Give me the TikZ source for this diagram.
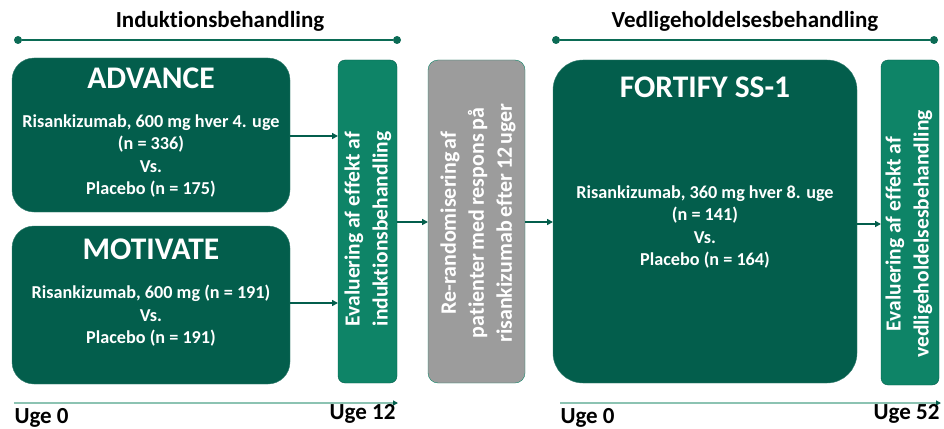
\documentclass[tikz,border=0pt]{standalone}
\usepackage{fontspec}
\setmainfont{Carlito}[Ligatures=NoCommon]
\usetikzlibrary{arrows.meta}
\definecolor{dkgreen}{HTML}{035E4C}
\definecolor{mdgreen}{HTML}{0E8467}
\definecolor{gbox}{HTML}{9C9C9C}
\definecolor{lnGreen}{HTML}{0B6B55}
\definecolor{tlgreen}{HTML}{8CC3B2}
\newcommand{\myGrayFont}{\bfseries\fontsize{22}{28}\selectfont\spaceskip=0.16em\relax}
\tikzset{
  study/.style={fill=dkgreen, draw=dkgreen!80!white, rounded corners=22pt, text=white, font=\bfseries},
  evalbox/.style={fill=mdgreen, draw=dkgreen, rounded corners=7pt},
  graybox/.style={fill=gbox, draw=mdgreen, rounded corners=10pt},
  conn/.style={draw=dkgreen, line width=1.6pt, -{Triangle[length=6pt,width=6pt]}},
  hdr/.style={draw=lnGreen, line width=2pt},
  hdot/.style={circle, fill=lnGreen, inner sep=0pt, minimum size=8pt},
  tl/.style={draw=tlgreen, line width=1.5pt},
  vtext/.style={text=white, font=\bfseries\fontsize{21.5}{28}\selectfont, align=center, rotate=90},
  gtext/.style={text=white, font=\myGrayFont, align=center, rotate=90},
  body/.style={text=white, font=\bfseries\fontsize{18.2}{22.5}\selectfont, align=center},
  big/.style={text=white, font=\bfseries\fontsize{31.5}{34}\selectfont},
  lbl/.style={font=\bfseries\fontsize{23}{26}\selectfont, text=black},
}
\begin{document}
\begin{tikzpicture}[x=1pt,y=-1pt]
\useasboundingbox (0,0) rectangle (944,428);
% headers
\node[lbl] (t1) at (220,21) {Induktionsbehandling};
\node[lbl] (t2) at (745,21) {Vedligeholdelsesbehandling};
\node[hdot] (d1) at (18,40) {};
\node[hdot] (d2) at (397,40) {};
\node[hdot] (d3) at (556,40) {};
\node[hdot] (d4) at (934,40) {};
\draw[hdr] (d1) -- (d2);
\draw[hdr] (d3) -- (d4);
% boxes
\draw[study] (12,58) rectangle (290,212);
\node[big] (adv) at (151,78) {ADVANCE};
\node[body] (advt) at (151,156) {Risankizumab, 600 mg hver 4. uge\\(n = 336)\\Vs.\\Placebo (n = 175)};
\coordinate (advR) at (290,136);
\draw[study] (12,226) rectangle (290,384);
\node[big] (mot) at (151,249) {MOTIVATE};
\node[body] (mott) at (151,316) {Risankizumab, 600 mg (n = 191)\\Vs.\\Placebo (n = 191)};
\coordinate (motR) at (290,303);
\draw[evalbox] (338,60) rectangle (397,383);
\node[vtext] (ev1) at (368,229) {Evaluering af effekt af\\induktionsbehandling};
\coordinate (ev1L) at (338,136);
\coordinate (ev1L2) at (338,303);
\coordinate (ev1R) at (397,222);
\draw[graybox] (428,60) rectangle (525,383);
\node[gtext] (gr) at (478,223) {Re-randomisering af\\patienter med respons på\\risankizumab efter 12 uger};
\coordinate (grL) at (428,222);
\coordinate (grR) at (525,222);
\draw[study, rounded corners=30pt] (553,60) rectangle (857,383);
\node[big] (fort) at (705,87) {FORTIFY SS-1};
\node[body] (fortt) at (705,227) {Risankizumab, 360 mg hver 8. uge\\(n = 141)\\Vs.\\Placebo (n = 164)};
\coordinate (fortL) at (553,222);
\coordinate (fortR) at (857,224);
\draw[evalbox] (881,60) rectangle (939,385);
\node[vtext] (ev2) at (909,234) {Evaluering af effekt af\\vedligeholdelsesbehandling};
\coordinate (ev2L) at (881,224);
% connectors
\draw[conn] (advR) -- (ev1L);
\draw[conn] (motR) -- (ev1L2);
\draw[conn] (ev1R) -- (grL);
\draw[conn] (grR) -- (fortL);
\draw[conn] (fortR) -- (ev2L);
% timelines
\coordinate (a0) at (14,403);
\coordinate (a1) at (398,403);
\coordinate (b0) at (560,403);
\coordinate (b1) at (941,403);
\draw[tl, -{Triangle[length=5pt,width=5pt,color=dkgreen]}] (a0) -- (a1);
\draw[tl, -{Triangle[length=5pt,width=5pt,color=dkgreen]}] (b0) -- (b1);
\node[lbl, anchor=west] (u0) at (11,418) {Uge 0};
\node[lbl, anchor=east] (u12) at (399,414) {Uge 12};
\node[lbl, anchor=west] (u0b) at (557,418) {Uge 0};
\node[lbl, anchor=east] (u52) at (943,414) {Uge 52};
\end{tikzpicture}
\end{document}
